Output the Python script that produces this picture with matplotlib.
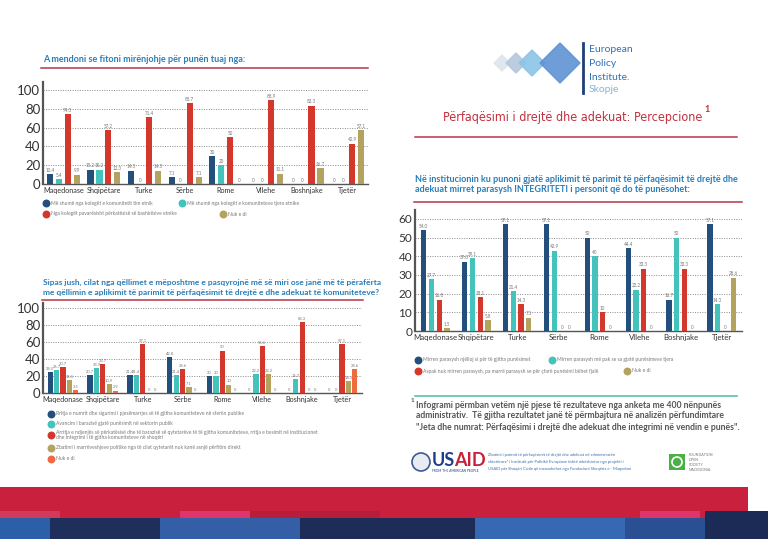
import numpy as np
import matplotlib
matplotlib.use("Agg")
import matplotlib.pyplot as plt
from matplotlib.patches import Rectangle, RegularPolygon, Circle

# ============================================================
# Podatki
# ============================================================

kategorite = ["Maqedonase", "Shqipëtare", "Turke", "Sërbe",
              "Rome", "Vllehe", "Boshnjake", "Tjetër"]

# Graf 1: A mendoni se fitoni mirënjohje ...
g1_tim_etnik = ["10.4", "15.2", "14.3", "7.1", "30", "0", "0", "0"]
g1_tjera_etnike = ["5.4", "15.2", "0", "0", "20", "0", "0", "0"]
g1_pavaresisht = ["74.3", "57.2", "71.4", "85.7", "50", "88.9", "83.3", "42.9"]
g1_nuk_di = ["9.9", "12.3", "14.3", "7.1", "0", "11.1", "16.7", "57.1"]
g1_legjenda = [
    "Më shumë nga kolegët e komunitetit tim etnik",
    "Më shumë nga kolegët e komuniteteve tjera etnike",
    "Nga kolegët pavarësisht përkatësisë së bashkësive etnike",
    "Nuk e di",
]

# Graf 2: qëllimet e parimit
g2_rritja = ["24.5", "20.7", "21.4", "42.8", "20", "0", "0", "0"]
g2_avancim = ["26.7", "28.9", "21.4", "21.4", "20", "22.2", "16.7", "0"]
g2_arritja = ["30.7", "33.7", "57.1", "28.6", "50", "55.6", "83.3", "57.1"]
g2_zbatimi = ["15.5", "10.9", "0", "7.1", "10", "22.2", "0", "14.3"]
g2_nuk_di = ["3.5", "2.9", "0", "0", "0", "0", "0", "28.6"]
g2_legjenda = [
    "Rritja e numrit dhe sigurimi i pjesëmarrjes së të gjitha komuniteteve në sferën publike",
    "Avancim i barazisë gjatë punësimit në sektorin publik",
    "Arritja e ndjenjës së përkatësisë dhe të barazisë së qytetarëve të të gjitha komuniteteve, "
    "rritja e besimit në institucionet\ndhe integrimi i të gjitha komuniteteve në shoqëri",
    "Zbatimi i marrëveshjeve politike nga të cilat qytetarët nuk kanë asnjë përfitim direkt",
    "Nuk e di",
]

# Graf 3: INTEGRITETI
g3_njelloj = ["54.0", "37.0", "57.1", "57.1", "50", "44.4", "16.7", "57.1"]
g3_me_pak = ["27.7", "39.1", "21.4", "42.9", "40", "22.2", "50", "14.3"]
g3_aspak = ["16.8", "18.1", "14.3", "0", "10", "33.3", "33.3", "0"]
g3_nuk_di = ["1.5", "5.8", "7.1", "0", "0", "0", "0", "28.6"]
g3_legjenda = [
    "Mirren parasysh njëlloj si për të gjitha punësimet",
    "Mirren parasysh më pak se sa gjatë punësimeve tjera",
    "Aspak nuk mirren parasysh, pa marrë parasysh se për çfarë punësimi bëhet fjalë",
    "Nuk e di",
]

# Barve
modra = "#234f7d"
turkizna = "#43c3bb"
rdeca = "#d4372c"
oliva = "#b3a35e"
oranzna = "#ef6b3f"
naslov_modra = "#2b7db8"
siva = "#555555"

W, H = 768, 539

plt.rcParams["font.family"] = ["Lato", "DejaVu Sans"]

fig = plt.figure(figsize=(W / 100, H / 100), dpi=100)
fig.patch.set_facecolor("white")

# ozadje v pikslih
bg = fig.add_axes([0, 0, 1, 1])
bg.set_xlim(0, W)
bg.set_ylim(H, 0)
bg.axis("off")


def px_axes(x0, y0, x1, y1):
    return fig.add_axes([x0 / W, 1 - y1 / H, (x1 - x0) / W, (y1 - y0) / H])


def bar_chart(box, series, colors, ymax, yticks, width, step, tick_fs, cat_fs, val_fs=3.3):
    ax = px_axes(*box)
    ax.set_facecolor("none")
    idx = np.arange(len(kategorite))
    n = len(series)
    for i, (vals, col) in enumerate(zip(series, colors)):
        v = [float(s) for s in vals]
        xs = idx + (i - (n - 1) / 2) * step
        ax.bar(xs, v, width, color=col, zorder=3)
        for xx, vv, s in zip(xs, v, vals):
            ax.text(xx, vv + ymax * 0.012, s, ha="center", va="bottom",
                    fontsize=val_fs, color="#777777", zorder=4)
    ax.set_xlim(-0.5, len(kategorite) - 0.5)
    ax.set_ylim(0, ymax)
    ax.set_yticks(yticks)
    ax.set_xticks(idx)
    ax.set_xticklabels(kategorite, fontsize=cat_fs, color="#333333")
    ax.tick_params(axis="y", length=0, labelsize=tick_fs, labelcolor="#333333", pad=2)
    ax.tick_params(axis="x", length=0, pad=2)
    ax.yaxis.grid(True, ls=(0, (1, 1.5)), color="#8a8a8a", lw=0.7)
    ax.set_axisbelow(True)
    for s in ["top", "right"]:
        ax.spines[s].set_visible(False)
    ax.spines["left"].set_color("#555555")
    ax.spines["left"].set_linewidth(1.6)
    ax.spines["bottom"].set_color("#555555")
    ax.spines["bottom"].set_linewidth(1.0)
    return ax


def legend_item(x, y, color, text, fs=3.6):
    bg.scatter([x], [y], s=22, color=color, zorder=5)
    bg.text(x + 5, y, text, fontsize=fs, color="#777777", va="center",
            linespacing=0.9)


# ============================================================
# Graf 1
# ============================================================

bg.text(43, 59, "A mendoni se fitoni mirënjohje për punën tuaj nga:",
        fontsize=6.5, fontweight="bold", color=naslov_modra, va="center")
bg.plot([41, 368], [68, 68], color="#b5364a", lw=1.1)

bar_chart((43, 82, 368, 184),
          [g1_tim_etnik, g1_tjera_etnike, g1_pavaresisht, g1_nuk_di],
          [modra, turkizna, rdeca, oliva],
          108.5, [0, 20, 40, 60, 80, 100], 0.15, 0.22, 9.5, 5.2)

legend_item(46, 203, modra, g1_legjenda[0])
legend_item(182, 203, turkizna, g1_legjenda[1])
legend_item(46, 214, rdeca, g1_legjenda[2])
legend_item(223, 214, oliva, g1_legjenda[3])

# ============================================================
# Graf 2
# ============================================================

bg.text(43, 282, "Sipas jush, cilat nga qëllimet e mëposhtme e pasqyrojnë më së miri ose janë më të përafërta",
        fontsize=6.0, fontweight="bold", color=naslov_modra, va="center")
bg.text(43, 292, "me qëllimin e aplikimit të parimit të përfaqësimit të drejtë e dhe adekuat të komuniteteve?",
        fontsize=6.0, fontweight="bold", color=naslov_modra, va="center")
bg.plot([42, 363], [300, 300], color="#b5364a", lw=1.1)

bar_chart((43, 303, 362, 393),
          [g2_rritja, g2_avancim, g2_arritja, g2_zbatimi, g2_nuk_di],
          [modra, turkizna, rdeca, oliva, oranzna],
          105.9, [0, 20, 40, 60, 80, 100], 0.13, 0.16, 9.5, 5.2, val_fs=2.9)

for i, (yy, col) in enumerate(zip([414, 424, 435, 448, 459],
                                  [modra, turkizna, rdeca, oliva, oranzna])):
    legend_item(51, yy, col, g2_legjenda[i])

# ============================================================
# Glava desno
# ============================================================

logo_barve = ["#dde5ee", "#b4c8dc", "#8cc3e6", "#5f92d4"]
logo_x = [502, 516, 532, 560]
logo_r = [8, 10, 13, 20]
for lx, lr, lc in zip(logo_x, logo_r, logo_barve):
    bg.add_patch(RegularPolygon((lx, 63), 4, radius=lr, color=lc, alpha=0.9, zorder=2))
bg.plot([583, 583], [43, 93], color="#1f3f78", lw=2)
bg.text(589, 50, "European", fontsize=7.5, color="#2e72b8", va="center")
bg.text(589, 63, "Policy", fontsize=7.5, color="#2e72b8", va="center")
bg.text(589, 77, "Institute.", fontsize=7.5, color="#2e72b8", va="center")
bg.text(589, 89, "Skopje", fontsize=7.5, color="#86b5d6", va="center")

naslov = bg.text(573, 118, "Përfaqësimi i drejtë dhe adekuat: Percepcione",
                 fontsize=9, color="#c2303e", ha="center", va="center",
                 family=["Liberation Sans Narrow", "DejaVu Sans"],
                 fontstretch="condensed")
renderer = fig.canvas.get_renderer()
bb = naslov.get_window_extent(renderer).transformed(bg.transData.inverted())
bg.text(max(bb.x0, bb.x1) + 4, 110, "1", fontsize=6.5, color="#c2303e",
        ha="center", va="center", fontweight="bold")
bg.plot([415, 737], [137, 137], color="#b5364a", lw=1.1)

# ============================================================
# Graf 3
# ============================================================

bg.text(415, 179, "Në institucionin ku punoni gjatë aplikimit të parimit të përfaqësimit të drejtë dhe",
        fontsize=6.5, fontweight="bold", color=naslov_modra, va="center")
bg.text(415, 189, "adekuat mirret parasysh INTEGRITETI i personit që do të punësohet:",
        fontsize=6.5, fontweight="bold", color=naslov_modra, va="center")
bg.plot([414, 742], [202, 202], color="#b5364a", lw=1.1)

bar_chart((415, 210, 742, 331),
          [g3_njelloj, g3_me_pak, g3_aspak, g3_nuk_di],
          [modra, turkizna, rdeca, oliva],
          64.8, [0, 10, 20, 30, 40, 50, 60], 0.13, 0.19, 8.5, 5.6)

legend_item(418, 360, modra, g3_legjenda[0])
legend_item(552, 360, turkizna, g3_legjenda[1])
legend_item(418, 371, rdeca, g3_legjenda[2])
legend_item(627, 371, oliva, g3_legjenda[3])

# ============================================================
# Opomba in logotipi
# ============================================================

bg.plot([415, 737], [396, 396], color="#5fbfae", lw=1.2)
bg.text(411, 401, "1", fontsize=4.5, color=siva, va="center", fontweight="bold")
opomba = [
    "Infogrami përmban vetëm një pjese të rezultateve nga anketa me 400 nënpunës",
    "administrativ.  Të gjitha rezultatet janë të përmbajtura në analizën përfundimtare",
    "\"Jeta dhe numrat: Përfaqësimi i drejtë dhe adekuat dhe integrimi në vendin e punës\".",
]
for yy, t in zip([406, 416, 427], opomba):
    bg.text(416, yy, t, fontsize=6.2, color=siva, va="center", fontweight="bold")

bg.add_patch(Circle((421, 462), 9, facecolor="#e8ecf2", edgecolor="#3c5a96", lw=1.2, zorder=3))
bg.text(432, 461, "US", fontsize=13, fontweight="bold", color="#1d3f8a", va="center")
bg.text(454, 461, "AID", fontsize=13, fontweight="bold", color="#c8203a", va="center")
bg.text(432, 471, "FROM THE AMERICAN PEOPLE", fontsize=2.3, color="#1d3f8a", va="center")

podpora = [
    "Zbatimi i parimit të përfaqësimit të drejtë dhe adekuat në administratën",
    "shtetërore\" i Institutit për Politikë Evropiane është mbështetur nga projekti i",
    "USAID për Shoqëri Civile që menaxhohet nga Fondacioni Shoqëria e - Maqedoni",
]
for yy, t in zip([455, 462, 469], podpora):
    bg.text(488, yy, t, fontsize=3.0, color="#3d6fb0", va="center")

bg.add_patch(Rectangle((669, 454), 16, 16, facecolor="#4bb046", edgecolor="none", zorder=3))
bg.add_patch(Circle((677, 462), 5, facecolor="none", edgecolor="white", lw=1.2, zorder=4))
for yy, t in zip([455, 460, 465, 470], ["FOUNDATION", "OPEN", "SOCIETY", "MACEDONIA"]):
    bg.text(689, yy, t, fontsize=2.6, color="#777777", va="center")

# ============================================================
# Spodnji pas
# ============================================================

bg.add_patch(Rectangle((0, 487), 748, 24, facecolor="#c9203d", edgecolor="none"))
pas_sredina = [(0, 60, "#d23a5c"), (60, 120, "#c9203d"), (180, 70, "#e0356b"),
               (250, 130, "#b81e3a"), (380, 260, "#c9203d"), (640, 60, "#e0356b"),
               (700, 48, "#c9203d")]
for x0, w, c in pas_sredina:
    bg.add_patch(Rectangle((x0, 511), w, 7, facecolor=c, edgecolor="none"))
pas_spodaj = [(0, 50, "#2d5fa8"), (50, 110, "#1e2f5c"), (160, 140, "#345fa6"),
              (300, 175, "#1d2d58"), (475, 150, "#3668b3"), (625, 80, "#2a4f93"),
              (705, 63, "#1c2b55")]
for x0, w, c in pas_spodaj:
    bg.add_patch(Rectangle((x0, 518), w, 21, facecolor=c, edgecolor="none"))
bg.add_patch(Rectangle((705, 511), 63, 7, facecolor="#1c2b55", edgecolor="none"))

fig.savefig("out.png", dpi=100)
